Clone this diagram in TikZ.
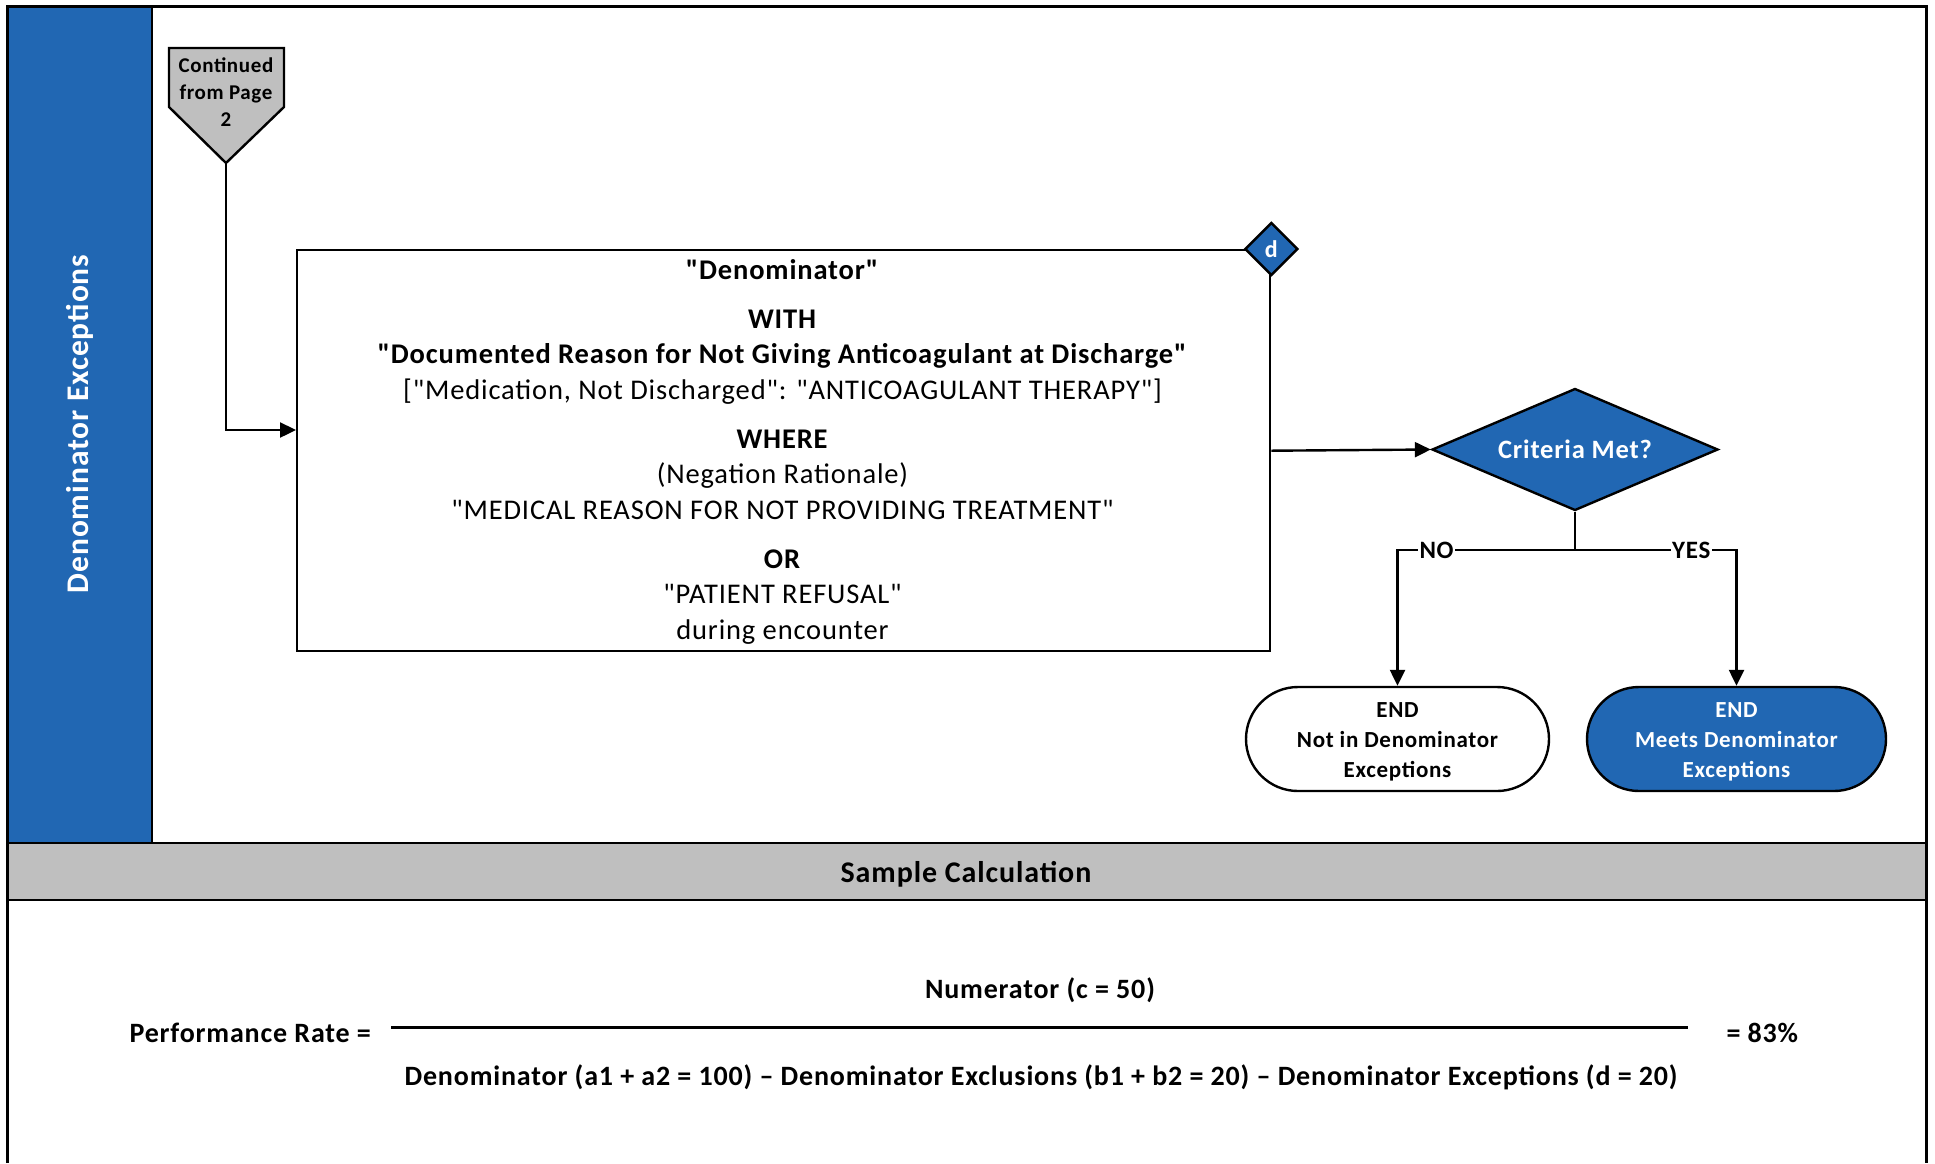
\documentclass[tikz,border=0pt]{standalone}
\usepackage{fontspec}
\setmainfont{Carlito}[Ligatures=TeXOff, LetterSpace=3]
\usetikzlibrary{shapes.geometric,arrows.meta}
\definecolor{vblue}{HTML}{2167B3}
\definecolor{vgray}{HTML}{BFBFBF}
\tikzset{
  boxline/.style={draw=black, line width=2.4pt},
  conn/.style={line width=2.4pt, -{Triangle[length=16pt,width=15pt]}},
  plainconn/.style={line width=2.4pt},
  endshape/.style={draw, line width=2.4pt, rectangle, rounded corners=52pt, minimum width=303pt, minimum height=104pt, inner sep=0pt, align=center, font=\fontsize{23}{30}\selectfont\bfseries},
  lbl/.style={fill=white, inner sep=1.5pt, font=\fontsize{25}{30}\selectfont\bfseries},
  calcfont/.style={font=\fontsize{28}{32}\selectfont\bfseries},
}
\begin{document}
\begin{tikzpicture}[x=1pt,y=-1pt]
\useasboundingbox (0,0) rectangle (1935,1163);
% swimlane header
\node[fill=vblue, draw=black, line width=2.4pt, minimum width=144pt, minimum height=836pt, anchor=north west, inner sep=0pt] (lane) at (7,6) {};
\node[rotate=90, text=white, font=\fontsize{31.5}{36}\selectfont\bfseries] (lanetext) at (80,424) {Denominator Exceptions};
% sample calculation bar
\node[fill=vgray, draw=black, line width=2.4pt, minimum width=1919pt, minimum height=57pt, anchor=north west, inner sep=0pt] (calcbar) at (7,842) {};
\node[anchor=base, font=\fontsize{30}{36}\selectfont\bfseries] (calctitle) at (966,882) {Sample Calculation};
% outer frame
\draw[line width=3pt] (7,1163) -- (7,6) -- (1926,6) -- (1926,1163);
% off-page connector
\draw[boxline, fill=vgray] (169,48) -- (284,48) -- (284,107) -- (226,163) -- (169,107) -- cycle;
\coordinate (conttip) at (226,163);
\node[align=center, inner sep=0pt, font=\fontsize{21}{27}\selectfont\bfseries] (cont) at (226,92) {Continued\\from Page\\2};
% main box
\node[draw, line width=2.4pt, minimum width=973pt, minimum height=401pt, anchor=north west, inner sep=0pt] (box) at (296,249) {};
\node[anchor=north, align=center, inner sep=0pt, font=\fontsize{28.5}{35.5}\selectfont] (boxtext) at (782.5,259) {%
\textbf{"Denominator"}\\[13.5pt]
\textbf{WITH}\\
\textbf{"Documented Reason for Not Giving Anticoagulant at Discharge"}\\
{[}"Medication, Not Discharged": "ANTICOAGULANT THERAPY"]\\[13.5pt]
\textbf{WHERE}\\
(Negation Rationale)\\
"MEDICAL REASON FOR NOT PROVIDING TREATMENT"\\[13.5pt]
\textbf{OR}\\
"PATIENT REFUSAL"\\
during encounter};
\node[diamond, aspect=1, fill=vblue, draw, line width=2.4pt, minimum width=53pt, minimum height=53pt, inner sep=0pt, text=white, font=\fontsize{24}{26}\selectfont\bfseries] (dmark) at (box.north east) {d};
% decision
\node[diamond, aspect=2.34, fill=vblue, draw, line width=2.4pt, minimum width=286pt, minimum height=122pt, inner sep=0pt, text=white, font=\fontsize{26.5}{30}\selectfont\bfseries] (crit) at (1575,449.5) {Criteria Met?};
\draw[conn] (box.east) -- (crit.west);
% ends
\node[endshape] (endno) at (1397.5,739) {};
\node[align=center, inner sep=0pt, font=\fontsize{23}{30}\selectfont\bfseries] (endnotext) at (1397.5,742) {END\\Not in Denominator\\Exceptions};
\node[endshape, fill=vblue, minimum width=299pt] (endyes) at (1736.5,739) {};
\node[align=center, inner sep=0pt, text=white, font=\fontsize{23}{30}\selectfont\bfseries] (endyestext) at (1736.5,742) {END\\Meets Denominator\\Exceptions};
\coordinate (split) at (1575,550);
\draw[plainconn] (crit.south) -- (split);
\draw[conn] (split) -| node[lbl, pos=0.39]{NO} (endno.north);
\draw[conn] (split) -| node[lbl, pos=0.36]{YES} (endyes.north);
% connector from off-page
\coordinate (boxin) at (296,430);
\draw[conn] (conttip) |- (boxin);
% sample calculation
\node[anchor=base, calcfont] (num) at (1040,998) {Numerator (c = 50)};
\coordinate (fracL) at (391,1027);
\coordinate (fracR) at (1688,1027);
\draw[line width=3pt] (fracL) -- (fracR);
\node[anchor=base west, calcfont] (perf) at (126,1042) {Performance Rate =};
\node[anchor=base west, calcfont] (rate) at (1723,1042) {= 83\%};
\node[anchor=base, calcfont] (den) at (1041,1085) {Denominator (a1 + a2 = 100) – Denominator Exclusions (b1 + b2 = 20) – Denominator Exceptions (d = 20)};
\end{tikzpicture}
\end{document}
